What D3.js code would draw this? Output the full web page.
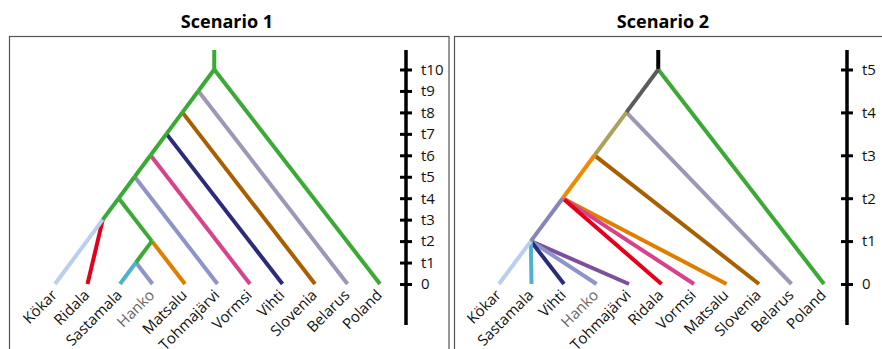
<!DOCTYPE html>
<html>
<head>
<meta charset="utf-8">
<script src="https://cdn.jsdelivr.net/npm/d3@7"></script>
<style>
  body { margin: 0; background: #fff; }
  svg { display: block; font-family: "Open Sans", sans-serif; }
</style>
</head>
<body>
<div id="chart"></div>
<script>
// scenario 1
const leaves1 = ["Kökar", "Ridala", "Sastamala", "Hanko", "Matsalu", "Tohmajärvi", "Vormsi", "Vihti", "Slovenia", "Belarus", "Poland"];
const leafColors1 = ["#b9cfed", "#e2001a", "#4fb1cf", "#8e94cb", "#e07e00", "#8e94c9", "#d8428b", "#2c2a7b", "#a95f00", "#9c97b7", "#3aaa35"];
// [node, time, children]
const nodes1 = [
  ["n10", 10, ["n9", "Poland"]],
  ["n9", 9, ["n8", "Belarus"]],
  ["n8", 8, ["n7", "Slovenia"]],
  ["n7", 7, ["n6", "Vihti"]],
  ["n6", 6, ["n5", "Vormsi"]],
  ["n5", 5, ["n4", "Tohmajärvi"]],
  ["n4", 4, ["n3", "n2"]],
  ["n3", 3, ["Kökar", "Ridala"]],
  ["n2", 2, ["n1", "Matsalu"]],
  ["n1", 1, ["Sastamala", "Hanko"]]
];
const nodeColors1 = ["#3aaa35", "#3aaa35", "#3aaa35", "#3aaa35", "#3aaa35", "#3aaa35", "#3aaa35", "#3aaa35", "#3aaa35", "#3aaa35"];
const ticks1 = ["0", "t1", "t2", "t3", "t4", "t5", "t6", "t7", "t8", "t9", "t10"];

// scenario 2
const leaves2 = ["Kökar", "Sastamala", "Vihti", "Hanko", "Tohmajärvi", "Ridala", "Vormsi", "Matsalu", "Slovenia", "Belarus", "Poland"];
const leafColors2 = ["#b9cfed", "#4fb1cf", "#2c2a7b", "#8e94cb", "#7e509b", "#e2001a", "#d8428b", "#e07e00", "#a95f00", "#9c97b7", "#3aaa35"];
const nodes2 = [
  ["m5", 5, ["m4", "Poland"]],
  ["m4", 4, ["m3", "Belarus"]],
  ["m3", 3, ["m2", "Slovenia"]],
  ["m2", 2, ["m1", "Ridala", "Vormsi", "Matsalu"]],
  ["m1", 1, ["Kökar", "Sastamala", "Vihti", "Hanko", "Tohmajärvi"]]
];
const nodeColors2 = ["#000000", "#5b5b5b", "#a9a257", "#f18a00", "#8584bb"];
const ticks2 = ["0", "t1", "t2", "t3", "t4", "t5"];

const rootAt = 4.9; // root position, in leaf steps

const W = 882, H = 349;
const svg = d3.select("#chart").append("svg")
    .attr("width", W)
    .attr("height", H);

const panels = [
  { title: "Scenario 1", leaves: leaves1, leafColors: leafColors1, nodes: nodes1, nodeColors: nodeColors1, ticks: ticks1,
    frame: [9.5, 36.5, 449, 360], xr: [55, 380], axisX: 406, titleX: 227 },
  { title: "Scenario 2", leaves: leaves2, leafColors: leafColors2, nodes: nodes2, nodeColors: nodeColors2, ticks: ticks2,
    frame: [454.5, 36.5, 900, 360], xr: [499, 824], axisX: 847, titleX: 663 }
];

panels.forEach(p => {
  const g = svg.append("g");

  g.append("rect")
      .attr("x", p.frame[0]).attr("y", p.frame[1])
      .attr("width", p.frame[2] - p.frame[0]).attr("height", p.frame[3] - p.frame[1])
      .attr("fill", "none")
      .attr("stroke", "#555")
      .attr("stroke-width", 1.2);

  g.append("text")
      .attr("x", p.titleX).attr("y", 28)
      .attr("text-anchor", "middle")
      .style("font-weight", "bold")
      .style("font-size", "18px")
      .text(p.title);

  const x = d3.scalePoint().domain(p.leaves).range(p.xr);
  const step = x.step();
  const y = d3.scaleLinear().domain([0, p.ticks.length - 1]).range([284, 69.5]);

  // positions
  const pos = {};
  p.leaves.forEach(l => pos[l] = { x: x(l), y: y(0) });
  const byId = {};
  p.nodes.forEach(n => byId[n[0]] = n);
  const edge = (id, side) => {
    if (!byId[id]) return id;
    const ch = byId[id][2];
    return edge(side === 0 ? ch[0] : ch[ch.length - 1], side);
  };
  const root = p.nodes[0];
  pos[root[0]] = { x: p.xr[0] + rootAt * step, y: y(root[1]) };
  const edges = [];
  p.nodes.forEach((n, i) => {
    const par = pos[n[0]];
    n[2].forEach((c, j) => {
      if (byId[c]) {
        const tip = pos[edge(c, j === 0 ? 0 : 1)];
        const cy = y(byId[c][1]);
        pos[c] = { x: par.x + (tip.x - par.x) * (cy - par.y) / (tip.y - par.y), y: cy };
        edges.push({ s: par, t: pos[c], color: p.nodeColors[p.nodes.indexOf(byId[c])], leaf: false });
      } else {
        edges.push({ s: par, t: pos[c], color: p.leafColors[p.leaves.indexOf(c)], leaf: true });
      }
    });
  });

  // stem
  g.append("line")
      .attr("x1", pos[root[0]].x).attr("x2", pos[root[0]].x)
      .attr("y1", y(root[1])).attr("y2", 50)
      .attr("stroke", p.nodeColors[0])
      .attr("stroke-width", 4);

  g.append("g")
      .selectAll("line")
      .data(edges.filter(e => e.leaf).reverse().concat(edges.filter(e => !e.leaf)))
      .join("line")
      .attr("x1", d => d.s.x).attr("y1", d => d.s.y)
      .attr("x2", d => d.t.x).attr("y2", d => d.t.y)
      .attr("stroke", d => d.color)
      .attr("stroke-width", 4);

  g.append("g")
      .style("font-size", "15px")
      .selectAll("text")
      .data(p.leaves)
      .join("text")
      .attr("transform", d => `translate(${x(d) + 3},${y(0) + 12}) rotate(-45)`)
      .attr("text-anchor", "end")
      .attr("fill", d => d === "Hanko" ? "#666" : "#111")
      .text(d => d);

  // time axis
  g.append("line")
      .attr("x1", p.axisX).attr("x2", p.axisX)
      .attr("y1", 50).attr("y2", 325)
      .attr("stroke", "#000")
      .attr("stroke-width", 3.5);

  const ax = g.append("g")
      .attr("transform", `translate(${p.axisX},0)`)
      .call(d3.axisRight(y)
          .tickValues(d3.range(p.ticks.length))
          .tickFormat(i => p.ticks[i])
          .tickSize(6)
          .tickPadding(9));
  ax.select(".domain").remove();
  ax.selectAll(".tick line")
      .attr("x1", -6)
      .attr("stroke-width", 3);
  ax.selectAll(".tick text")
      .style("font-size", "15px")
      .style("font-family", "Open Sans, sans-serif")
      .attr("fill", "#111");
});
</script>
</body>
</html>
